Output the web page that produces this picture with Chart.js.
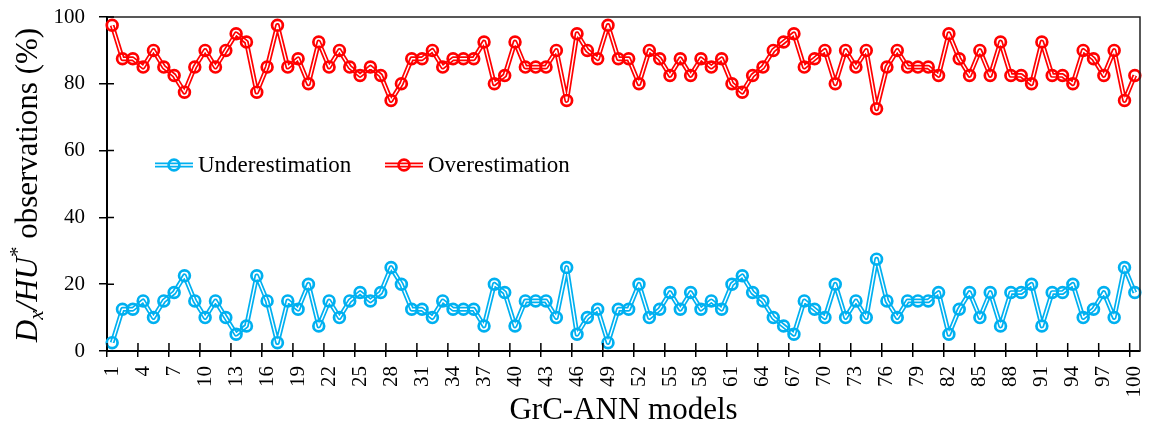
<!DOCTYPE html>
<html>
<head>
<meta charset="utf-8">
<script src="https://cdn.jsdelivr.net/npm/chart.js@4.4.1/dist/chart.umd.min.js"></script>
<style>
  html, body { margin: 0; padding: 0; background: #ffffff; }
  #wrap { width: 1159px; height: 431px; }
</style>
</head>
<body>
<div id="wrap"><canvas id="c" width="1159" height="431"></canvas></div>
<script>
const categories = ['1','2','3','4','5','6','7','8','9','10','11','12','13','14','15','16','17','18','19','20',
  '21','22','23','24','25','26','27','28','29','30','31','32','33','34','35','36','37','38','39','40',
  '41','42','43','44','45','46','47','48','49','50','51','52','53','54','55','56','57','58','59','60',
  '61','62','63','64','65','66','67','68','69','70','71','72','73','74','75','76','77','78','79','80',
  '81','82','83','84','85','86','87','88','89','90','91','92','93','94','95','96','97','98','99','100'];

const underestimation = [
  2.5, 12.5, 12.5, 15, 10, 15, 17.5, 22.5, 15, 10,
  15, 10, 5, 7.5, 22.5, 15, 2.5, 15, 12.5, 20,
  7.5, 15, 10, 15, 17.5, 15, 17.5, 25, 20, 12.5,
  12.5, 10, 15, 12.5, 12.5, 12.5, 7.5, 20, 17.5, 7.5,
  15, 15, 15, 10, 25, 5, 10, 12.5, 2.5, 12.5,
  12.5, 20, 10, 12.5, 17.5, 12.5, 17.5, 12.5, 15, 12.5,
  20, 22.5, 17.5, 15, 10, 7.5, 5, 15, 12.5, 10,
  20, 10, 15, 10, 27.5, 15, 10, 15, 15, 15,
  17.5, 5, 12.5, 17.5, 10, 17.5, 7.5, 17.5, 17.5, 20,
  7.5, 17.5, 17.5, 20, 10, 12.5, 17.5, 10, 25, 17.5];

const overestimation = [
  97.5, 87.5, 87.5, 85, 90, 85, 82.5, 77.5, 85, 90,
  85, 90, 95, 92.5, 77.5, 85, 97.5, 85, 87.5, 80,
  92.5, 85, 90, 85, 82.5, 85, 82.5, 75, 80, 87.5,
  87.5, 90, 85, 87.5, 87.5, 87.5, 92.5, 80, 82.5, 92.5,
  85, 85, 85, 90, 75, 95, 90, 87.5, 97.5, 87.5,
  87.5, 80, 90, 87.5, 82.5, 87.5, 82.5, 87.5, 85, 87.5,
  80, 77.5, 82.5, 85, 90, 92.5, 95, 85, 87.5, 90,
  80, 90, 85, 90, 72.5, 85, 90, 85, 85, 85,
  82.5, 95, 87.5, 82.5, 90, 82.5, 92.5, 82.5, 82.5, 80,
  92.5, 82.5, 82.5, 80, 90, 87.5, 82.5, 90, 75, 82.5];

const seriesNames = ['Underestimation', 'Overestimation'];
const seriesColors = ['#00B0F0', '#FF0000'];
const yTickValues = [0, 20, 40, 60, 80, 100];
const xLabelEvery = 3;
const xTitle = 'GrC-ANN models';

const FONT = "'Liberation Serif', 'Times New Roman', serif";
const LINE_W = 4.8, INNER_W = 1.4, PT_R = 5.4, PT_BW = 2.7;

function seriesDatasets(data, color, name) {
  return [
    { label: name, data: data, borderColor: color, borderWidth: LINE_W, pointRadius: 0,
      borderJoinStyle: 'round', fill: false, tension: 0, order: 5 },
    { label: name + '_inner', data: data, borderColor: '#ffffff', borderWidth: INNER_W, pointRadius: 0,
      borderJoinStyle: 'round', fill: false, tension: 0, order: 4 },
    { label: name + '_pts', data: data, showLine: false, pointRadius: PT_R, pointBorderWidth: PT_BW,
      pointBorderColor: color, pointBackgroundColor: 'rgba(255,255,255,0)', borderColor: color,
      pointHoverRadius: PT_R, order: 3 }
  ];
}

function zeroPadding(scale) {
  scale.paddingTop = 0; scale.paddingBottom = 0; scale.paddingLeft = 0; scale.paddingRight = 0;
}

const decorPlugin = {
  id: 'decor',
  afterDraw(chart) {
    const ctx = chart.ctx;
    const ca = chart.chartArea;
    const xs = chart.scales.x, ys = chart.scales.y;
    ctx.save();
    // frame top/right
    ctx.strokeStyle = '#222';
    ctx.lineWidth = 1.5;
    ctx.beginPath();
    ctx.moveTo(ca.left, ca.top); ctx.lineTo(ca.right, ca.top); ctx.lineTo(ca.right, ca.bottom);
    ctx.stroke();
    // inward tick marks
    ctx.strokeStyle = '#000';
    ctx.lineWidth = 1.5;
    ctx.beginPath();
    yTickValues.forEach(v => {
      const y = ys.getPixelForValue(v);
      ctx.moveTo(ca.left, y); ctx.lineTo(ca.left + 7, y);
    });
    const half = (xs.getPixelForValue(1) - xs.getPixelForValue(0)) / 2;
    for (let i = 0; i < categories.length; i += xLabelEvery) {
      const x = xs.getPixelForValue(i) - half;
      ctx.moveTo(x, ca.bottom); ctx.lineTo(x, ca.bottom - 8);
    }
    ctx.stroke();

    // legend
    const legendY = ca.top + 148;
    const starts = [ca.left + 48, ca.left + 278];
    ctx.font = '23px ' + FONT;
    ctx.textBaseline = 'middle';
    ctx.textAlign = 'left';
    seriesNames.forEach((name, k) => {
      const x0 = starts[k], col = seriesColors[k];
      ctx.lineCap = 'butt';
      ctx.strokeStyle = col; ctx.lineWidth = LINE_W;
      ctx.beginPath(); ctx.moveTo(x0, legendY); ctx.lineTo(x0 + 38, legendY); ctx.stroke();
      ctx.strokeStyle = '#fff'; ctx.lineWidth = INNER_W;
      ctx.beginPath(); ctx.moveTo(x0, legendY); ctx.lineTo(x0 + 38, legendY); ctx.stroke();
      ctx.strokeStyle = col; ctx.lineWidth = PT_BW;
      ctx.beginPath(); ctx.arc(x0 + 19, legendY, PT_R, 0, Math.PI * 2); ctx.stroke();
      ctx.fillStyle = '#000';
      ctx.fillText(name, x0 + 43, legendY + 1);
    });

    // x title
    ctx.font = '31px ' + FONT;
    ctx.textAlign = 'center';
    ctx.textBaseline = 'alphabetic';
    ctx.fillStyle = '#000';
    ctx.fillText(xTitle, (ca.left + ca.right) / 2, 419);

    // y title (rich text)
    const parts = [
      { t: 'D', f: 'italic 31px ' + FONT, dy: 0 },
      { t: 'x', f: 'italic 21px ' + FONT, dy: 6 },
      { t: '/', f: 'italic 31px ' + FONT, dy: 0 },
      { t: 'HU', f: 'italic 31px ' + FONT, dy: 0 },
      { t: '*', f: '21px ' + FONT, dy: -13 },
      { t: ' observations (%)', f: '31px ' + FONT, dy: 0 }
    ];
    let total = 0;
    parts.forEach(p => { ctx.font = p.f; p.w = ctx.measureText(p.t).width; total += p.w; });
    ctx.translate(37, 185);
    ctx.rotate(-Math.PI / 2);
    ctx.textAlign = 'left';
    let cx = -total / 2;
    parts.forEach(p => { ctx.font = p.f; ctx.fillText(p.t, cx, p.dy); cx += p.w; });
    ctx.restore();
  }
};

const datasets = [
  ...seriesDatasets(underestimation, seriesColors[0], seriesNames[0]),
  ...seriesDatasets(overestimation, seriesColors[1], seriesNames[1])
];

new Chart(document.getElementById('c'), {
  type: 'line',
  data: { labels: categories, datasets: datasets },
  options: {
    responsive: false,
    animation: false,
    devicePixelRatio: 1,
    layout: { padding: { top: 17, right: 19, left: 0, bottom: 0 } },
    plugins: { legend: { display: false }, tooltip: { enabled: false }, title: { display: false } },
    scales: {
      x: {
        type: 'category',
        offset: true,
        afterFit(scale) { scale.height = 80; zeroPadding(scale); },
        grid: {
          display: true, drawOnChartArea: false, drawTicks: true, tickLength: 6, offset: true,
          color: (c) => (c.index !== undefined && c.index % xLabelEvery === 0) ? '#000' : 'rgba(0,0,0,0)',
          lineWidth: 1.5
        },
        border: { display: true, color: '#000', width: 2 },
        ticks: {
          autoSkip: false, minRotation: 90, maxRotation: 90, padding: 9, color: '#000',
          font: { family: FONT, size: 21 },
          callback: function (val, idx) { return idx % xLabelEvery === 0 ? categories[idx] : ''; }
        }
      },
      y: {
        min: 0, max: 100,
        afterFit(scale) { scale.width = 107; zeroPadding(scale); },
        afterBuildTicks(scale) { scale.ticks = yTickValues.map(v => ({ value: v })); },
        grid: { display: true, drawOnChartArea: false, drawTicks: true, tickLength: 8, color: '#000', lineWidth: 1.5 },
        border: { display: true, color: '#000', width: 2 },
        ticks: { padding: 14, color: '#000', font: { family: FONT, size: 21 } }
      }
    }
  },
  plugins: [decorPlugin]
});
</script>
</body>
</html>
